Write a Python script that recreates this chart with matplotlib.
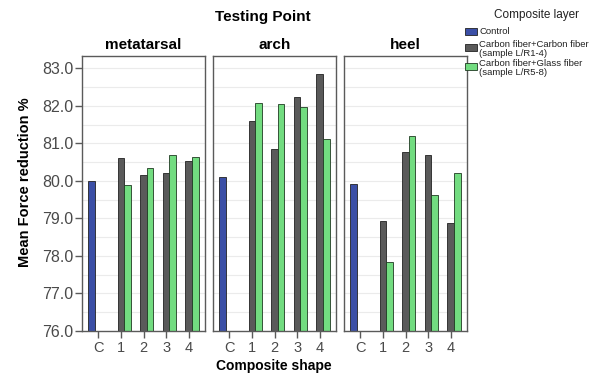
import numpy as np
import matplotlib
matplotlib.use("Agg")
import matplotlib.pyplot as plt
from matplotlib.patches import Rectangle

plt.rcParams["font.family"] = ["Liberation Sans", "DejaVu Sans"]

# Data
testing_points = ["metatarsal", "arch", "heel"]
shapes = ["C", "1", "2", "3", "4"]
control = [79.99, 80.11, 79.92]
carbon_carbon = [
    [80.60, 80.17, 80.20, 80.52],
    [81.59, 80.85, 82.25, 82.84],
    [78.93, 80.76, 80.70, 78.88],
]
carbon_glass = [
    [79.88, 80.35, 80.69, 80.64],
    [82.08, 82.04, 81.96, 81.11],
    [77.84, 81.21, 79.62, 80.20],
]
legend_labels = [
    "Control",
    "Carbon fiber+Carbon fiber\n(sample L/R1-4)",
    "Carbon fiber+Glass fiber\n(sample L/R5-8)",
]
y_ticks = [76.0, 77.0, 78.0, 79.0, 80.0, 81.0, 82.0, 83.0]

c_blue = "#3b4fa6"
c_gray = "#5a5a5a"
c_green = "#72dc80"
edge = "#222222"
spine_c = "#5a5a5a"
tick_c = "#4a4a4a"

W, H = 601, 376
fig = plt.figure(figsize=(W / 100, H / 100), dpi=100)

panel_left = [82, 213, 344]
panel_w = 123
top_px, bot_px = 56, 331
bw = 0.29
x = np.arange(len(shapes))

axes = []
for i, name in enumerate(testing_points):
    ax = fig.add_axes([panel_left[i] / W, (H - bot_px) / H, panel_w / W,
                       (bot_px - top_px) / H])
    axes.append(ax)
    ax.set_ylim(76.0, 83.33)
    ax.set_xlim(-0.72, 4.72)
    for g in np.arange(76.5, 83.4, 0.5):
        ax.axhline(g, color="#ebebeb", lw=0.8, zorder=0)
    ax.bar(x[0] - bw, control[i], width=bw, color=c_blue, edgecolor=edge,
           lw=0.6, zorder=2)
    ax.bar(x[1:], carbon_carbon[i], width=bw, color=c_gray, edgecolor=edge,
           lw=0.6, zorder=2)
    ax.bar(x[1:] + bw, carbon_glass[i], width=bw, color=c_green,
           edgecolor="#1f3a22", lw=0.6, zorder=2)
    ax.set_xticks(x)
    ax.set_xticklabels(shapes, fontsize=10.5, color=tick_c)
    ax.tick_params(axis="x", length=5, width=1, color=spine_c, pad=2)
    for s in ax.spines.values():
        s.set_color(spine_c)
        s.set_linewidth(1.0)
    if i == 0:
        ax.set_yticks(y_ticks)
        ax.set_yticklabels([f"{v:.1f}" for v in y_ticks], fontsize=11.5,
                           color=tick_c)
        ax.tick_params(axis="y", length=5, width=1, color=spine_c, pad=1)
    else:
        ax.set_yticks([])
    ax.set_title(name, fontsize=11, fontweight="bold", pad=5)

fig.text(25 / W, 1 - 182 / H, "Mean Force reduction %", rotation=90,
         ha="center", va="center", fontsize=10.5, fontweight="bold")
fig.text(263 / W, 1 - 17 / H, "Testing Point", ha="center", va="center",
         fontsize=11, fontweight="bold")
fig.text(274 / W, 1 - 366 / H, "Composite shape", ha="center", va="center",
         fontsize=10, fontweight="bold")

# Legend
fig.text(537 / W, 1 - 15 / H, "Composite layer", ha="center", va="center",
         fontsize=8.5, color="#222222")
entries = [(c_blue, edge, 31, 31), (c_gray, edge, 47, 49),
           (c_green, "#1f3a22", 66, 68)]
for (fc, ec, yp, yt), lab in zip(entries, legend_labels):
    fig.patches.append(Rectangle((465 / W, 1 - (yp + 3.5) / H), 12 / W, 7 / H,
                                 transform=fig.transFigure, facecolor=fc,
                                 edgecolor=ec, lw=0.6))
    fig.text(479 / W, 1 - yt / H, lab, ha="left", va="center", fontsize=6.8,
             color="#222222", linespacing=1.0)

fig.savefig("out.png", dpi=100)
